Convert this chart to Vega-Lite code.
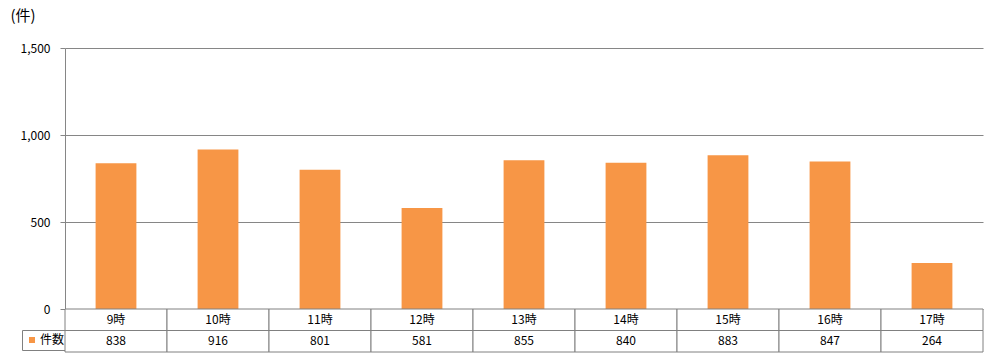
{
  "$schema": "https://vega.github.io/schema/vega-lite/v6.json",
  "padding": {"left": 10, "top": 8, "right": 13, "bottom": 8},
  "background": "white",
  "spacing": 0,
  "bounds": "flush",
  "data": {"values": [
    {"hour": "9時", "count": 838},
    {"hour": "10時", "count": 916},
    {"hour": "11時", "count": 801},
    {"hour": "12時", "count": 581},
    {"hour": "13時", "count": 855},
    {"hour": "14時", "count": 840},
    {"hour": "15時", "count": 883},
    {"hour": "16時", "count": 847},
    {"hour": "17時", "count": 264}
  ]},
  "resolve": {"scale": {"x": "independent", "y": "independent"}, "legend": {"color": "independent"}},
  "config": {
    "view": {"stroke": null},
    "font": "Noto Sans CJK JP",
    "text": {"font": "Noto Sans CJK JP"}
  },
  "vconcat": [
    {
      "width": 918,
      "height": 261,
      "mark": {"type": "bar"},
      "encoding": {
        "x": {"field": "hour", "type": "nominal", "sort": null, "scale": {"paddingInner": 0.6, "paddingOuter": 0.3}, "axis": null},
        "y": {"field": "count", "type": "quantitative", "scale": {"domain": [0, 1500], "nice": false},
          "axis": {"values": [0, 500, 1000, 1500], "format": ",.0f", "title": "(件)", "titleAngle": 0, "titleAlign": "left", "titleBaseline": "top", "titleX": -55, "titleY": -40, "titleFontWeight": "normal", "titleFontSize": 15, "titleColor": "#000", "labelFontSize": 12, "labelColor": "#000", "gridColor": "#868686", "domainColor": "#868686", "tickColor": "#868686", "tickSize": 5, "labelPadding": 10}},
        "color": {"datum": "件数", "type": "nominal", "scale": {"range": ["#F79646"]},
          "legend": {"title": null, "orient": "none", "legendX": -43, "legendY": 282, "symbolType": "square", "symbolSize": 36, "symbolStrokeWidth": 0, "labelFontSize": 12, "labelColor": "#000", "labelOffset": 2, "padding": 4, "rowPadding": 0, "strokeColor": "#808080", "fillColor": "white"}}
      }
    },
    {
      "width": 918,
      "height": 43,
      "encoding": {
        "x": {"field": "hour", "type": "nominal", "sort": null, "scale": {"paddingInner": 0, "paddingOuter": 0}, "axis": null}
      },
      "layer": [
        {
          "mark": {"type": "rect", "fill": "white", "stroke": "#808080", "strokeWidth": 1},
          "encoding": {"y": {"datum": "h", "type": "nominal", "scale": {"domain": ["h", "c"], "paddingInner": 0, "paddingOuter": 0}, "axis": null}}
        },
        {
          "mark": {"type": "rect", "fill": "white", "stroke": "#808080", "strokeWidth": 1},
          "encoding": {"y": {"datum": "c", "type": "nominal"}}
        },
        {
          "mark": {"type": "text", "fontSize": 12, "color": "#000"},
          "encoding": {"y": {"datum": "h", "type": "nominal"}, "text": {"field": "hour"}}
        },
        {
          "mark": {"type": "text", "fontSize": 12, "color": "#000"},
          "encoding": {"y": {"datum": "c", "type": "nominal"}, "text": {"field": "count", "type": "quantitative"}}
        }
      ]
    }
  ]
}
